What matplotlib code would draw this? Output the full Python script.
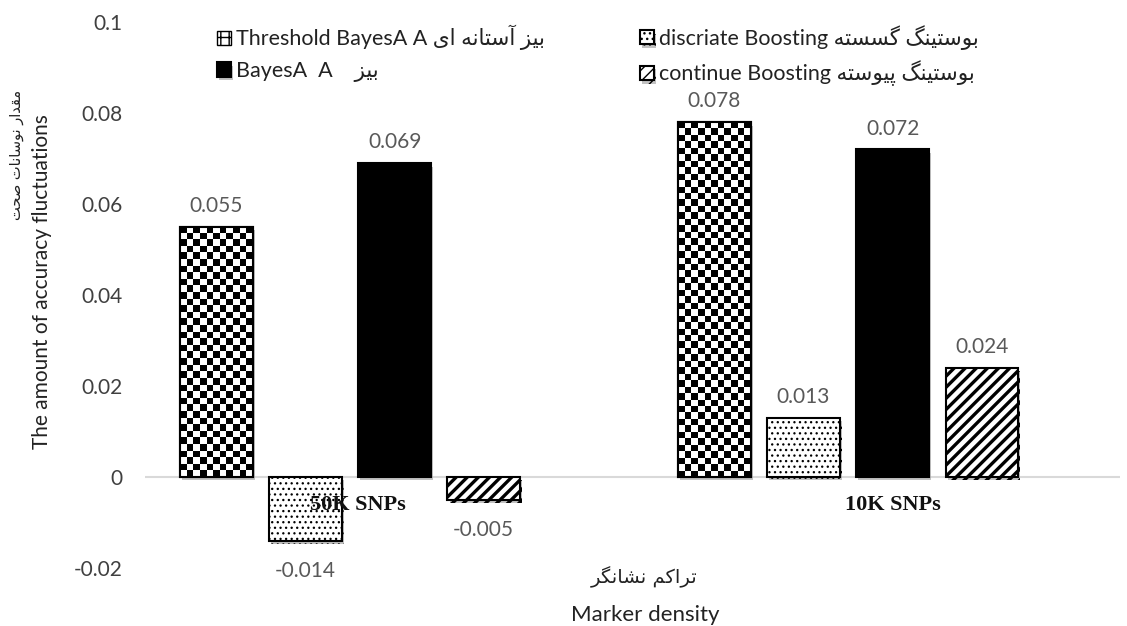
import numpy as np
import matplotlib
matplotlib.use('Agg')
from matplotlib import pyplot as plt
from matplotlib.patches import Patch
from matplotlib.font_manager import FontProperties
import matplotlib.patheffects as pe

plt.rcParams['font.family'] = ['Lato', 'DejaVu Sans']

# data
groups = ['50K SNPs', '10K SNPs']
threshold_bayesA = [0.055, 0.078]
discrete_boost = [-0.014, 0.013]
bayesA = [0.069, 0.072]
continue_boost = [-0.005, 0.024]
yticks = [-0.02, 0, 0.02, 0.04, 0.06, 0.08, 0.1]

# persian letters -> presentation forms (isol, fina, init, medi)
FORMS = {
    'ا': ('\uFE8D', '\uFE8E'), 'آ': ('\uFE81', '\uFE82'),
    'د': ('\uFEA9', '\uFEAA'), 'ر': ('\uFEAD', '\uFEAE'),
    'ز': ('\uFEAF', '\uFEB0'), 'و': ('\uFEED', '\uFEEE'),
    'ب': ('\uFE8F', '\uFE90', '\uFE91', '\uFE92'),
    'پ': ('\uFB56', '\uFB57', '\uFB58', '\uFB59'),
    'ت': ('\uFE95', '\uFE96', '\uFE97', '\uFE98'),
    'ح': ('\uFEA1', '\uFEA2', '\uFEA3', '\uFEA4'),
    'س': ('\uFEB1', '\uFEB2', '\uFEB3', '\uFEB4'),
    'ش': ('\uFEB5', '\uFEB6', '\uFEB7', '\uFEB8'),
    'ص': ('\uFEB9', '\uFEBA', '\uFEBB', '\uFEBC'),
    'ق': ('\uFED5', '\uFED6', '\uFED7', '\uFED8'),
    'ک': ('\uFB8E', '\uFB8F', '\uFB90', '\uFB91'),
    'گ': ('\uFB92', '\uFB93', '\uFB94', '\uFB95'),
    'م': ('\uFEE1', '\uFEE2', '\uFEE3', '\uFEE4'),
    'ن': ('\uFEE5', '\uFEE6', '\uFEE7', '\uFEE8'),
    'ه': ('\uFEE9', '\uFEEA', '\uFEEB', '\uFEEC'),
    'ی': ('\uFBFC', '\uFBFD', '\uFBFE', '\uFBFF'),
}


def fa(s):
    # shape + reverse so matplotlib shows it right-to-left
    out = []
    for i, c in enumerate(s):
        f = FORMS.get(c)
        if f is None:
            out.append(c)
            continue
        prev = s[i - 1] if i > 0 else ''
        nxt = s[i + 1] if i + 1 < len(s) else ''
        pj = prev in FORMS and len(FORMS[prev]) == 4
        nj = len(f) == 4 and nxt in FORMS
        if pj and nj:
            out.append(f[3])
        elif pj:
            out.append(f[1])
        elif nj:
            out.append(f[2])
        else:
            out.append(f[0])
    return ''.join(reversed(out))


fig = plt.figure(figsize=(11.27, 6.26), dpi=100)
ax = fig.add_axes([145 / 1127, 58 / 626, 975 / 1127, 546 / 626])

x = np.arange(len(groups))
w = 0.1456
step = 0.179
shadow = [pe.SimplePatchShadow(offset=(1.5, -2.5), shadow_rgbFace='#a8a8a8', alpha=0.7), pe.Normal()]

b_thr = ax.bar(x - 1.5 * step, threshold_bayesA, w, color='white', edgecolor='black', lw=1.5,
               zorder=2, path_effects=shadow)
with plt.rc_context({'hatch.linewidth': 0.9}):
    b_dis = ax.bar(x - 0.5 * step, discrete_boost, w, color='white', edgecolor='black', lw=1.5,
                   hatch='...', zorder=2, path_effects=shadow)
b_bay = ax.bar(x + 0.5 * step, bayesA, w, color='black', edgecolor='black', lw=1.5,
               zorder=2, path_effects=shadow)
with plt.rc_context({'hatch.linewidth': 2.4}):
    b_con = ax.bar(x + 1.5 * step, continue_boost, w, color='white', edgecolor='black', lw=1.5,
                   hatch='///', zorder=2, path_effects=shadow)

# checkerboard fill for the threshold bars
sq = 0.02 / 91 * 6.5
for rect in b_thr:
    x0, y0 = rect.get_x(), rect.get_y()
    rw, rh = rect.get_width(), rect.get_height()
    nrow = max(1, int(round(abs(rh) / sq)))
    arr = np.add.outer(np.arange(nrow), np.arange(11)) % 2
    im = ax.imshow(arr, cmap='gray', interpolation='nearest', aspect='auto',
                   extent=[x0, x0 + rw, y0, y0 + rh], zorder=2.5)
    im.set_clip_path(rect)
ax.bar(x - 1.5 * step, threshold_bayesA, w, fill=False, edgecolor='black', lw=1.5, zorder=3)

# value labels
for cont, vals in [(b_thr, threshold_bayesA), (b_dis, discrete_boost), (b_bay, bayesA), (b_con, continue_boost)]:
    for rect, v in zip(cont, vals):
        cx = rect.get_x() + rect.get_width() / 2
        off = 15 if v >= 0 else -22
        ax.annotate(f'{v:.3f}', (cx, v), xytext=(0, off), textcoords='offset points',
                    ha='center', va='center', fontsize=15, color='#595959', zorder=4)

ax.axhline(0, color='#d9d9d9', lw=1.5, zorder=1)
ax.set_xlim(-0.4116, 1.546)
ax.set_ylim(-0.02, 0.1)
ax.set_yticks(yticks)
ax.set_yticklabels([f'{t:g}' for t in yticks], fontsize=15, color='#404040')
ax.tick_params(axis='y', length=0, pad=16)
ax.set_xticks([])
for s in ax.spines.values():
    s.set_visible(False)

# category names
cat_shift = [0.015, 0.09]
for i, g in enumerate(groups):
    ax.text(x[i] + cat_shift[i], 0.115, g, transform=ax.get_xaxis_transform(), ha='center', va='center',
            family='Liberation Serif', fontweight='bold', fontsize=16, color='#111111', zorder=5)

# axis titles
fig.text(645 / 1127, 1 - 615 / 626, 'Marker density', ha='center', va='center', fontsize=16, color='#222222')
fig.text(644 / 1127, 1 - 577 / 626, fa('تراکم نشانگر'), ha='center', va='center', fontsize=14,
         family='DejaVu Sans', color='#222222')
fig.text(42 / 1127, 1 - 282 / 626, 'The amount of accuracy fluctuations', rotation=90, ha='center',
         va='center', fontsize=15, color='#222222')
fig.text(17 / 1127, 1 - 155 / 626, fa('مقدار نوسانات صحت'), rotation=90, ha='center', va='center',
         fontsize=10.5, family='DejaVu Sans', color='#222222')

# legend (two columns)
prop = FontProperties(family=['Lato', 'DejaVu Sans'], size=15.5)
h_thr = Patch(facecolor='white', edgecolor='black', hatch='++')
lab_thr = 'Threshold BayesA A ' + fa('بیز آستانه ای')
lab_bay = 'BayesA  A    ' + fa('بیز')
lab_dis = 'discriate Boosting ' + fa('بوستینگ گسسته')
lab_con = 'continue Boosting ' + fa('بوستینگ پیوسته')
kw = dict(loc='upper left', frameon=False, prop=prop, handlelength=0.65, handleheight=0.65,
          handletextpad=0.25, labelspacing=0.5, borderpad=0, borderaxespad=0, labelcolor='#222222')
fig.legend([h_thr, b_bay], [lab_thr, lab_bay], bbox_to_anchor=(217 / 1127, 1 - 25 / 626), **kw)
fig.legend([b_dis, b_con], [lab_dis, lab_con], bbox_to_anchor=(640 / 1127, 1 - 25 / 626), **kw)

fig.savefig('out.png', dpi=100)
